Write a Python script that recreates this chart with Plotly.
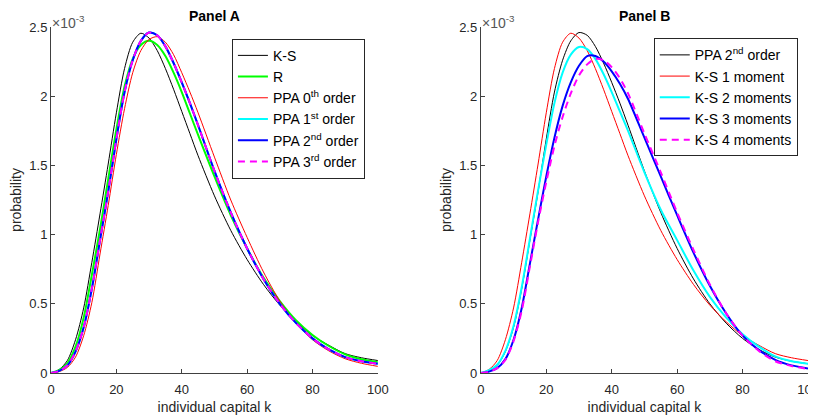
import plotly.graph_objects as go

# individual capital k (x grid at which values were read)
k = [0, 2.5, 5, 7.5, 10, 12.5, 15, 17.5, 20, 22.5, 25, 27.5, 30, 32.5, 35, 37.5,
     40, 42.5, 45, 50, 55, 60, 65, 70, 75, 80, 85, 90, 95, 100]

# ---- Panel A (probability, in units of 1e-3) ----
a_ks = [0, 0.025, 0.09, 0.24, 0.47, 0.80, 1.15, 1.51, 1.88, 2.20, 2.39, 2.455, 2.42, 2.33,
        2.20, 2.05, 1.89, 1.73, 1.57, 1.28, 1.03, 0.82, 0.64, 0.49, 0.37, 0.27, 0.20, 0.14, 0.11, 0.09]
a_r = [0, 0.02, 0.07, 0.19, 0.40, 0.71, 1.04, 1.40, 1.76, 2.07, 2.27, 2.37, 2.40, 2.37,
       2.29, 2.17, 2.03, 1.875, 1.72, 1.42, 1.14, 0.90, 0.69, 0.52, 0.38, 0.275, 0.195, 0.135, 0.10, 0.078]
a_ppa0 = [0, 0.01, 0.04, 0.115, 0.27, 0.51, 0.86, 1.21, 1.58, 1.91, 2.17, 2.33, 2.41, 2.43,
          2.39, 2.30, 2.17, 2.03, 1.88, 1.56, 1.25, 0.98, 0.73, 0.52, 0.36, 0.24, 0.16, 0.103, 0.07, 0.048]
a_ppa1 = [0, 0.015, 0.055, 0.155, 0.33, 0.61, 0.96, 1.31, 1.69, 2.03, 2.26, 2.40, 2.46, 2.44,
          2.36, 2.24, 2.10, 1.95, 1.79, 1.46, 1.16, 0.90, 0.68, 0.50, 0.36, 0.25, 0.17, 0.115, 0.085, 0.067]
a_ppa2 = [0, 0.015, 0.055, 0.155, 0.33, 0.61, 0.96, 1.31, 1.69, 2.03, 2.26, 2.40, 2.46, 2.44,
          2.36, 2.24, 2.10, 1.95, 1.79, 1.46, 1.16, 0.90, 0.68, 0.50, 0.36, 0.25, 0.17, 0.115, 0.085, 0.067]
a_ppa3 = [0, 0.015, 0.055, 0.155, 0.33, 0.61, 0.96, 1.31, 1.69, 2.03, 2.26, 2.40, 2.46, 2.44,
          2.36, 2.24, 2.10, 1.95, 1.79, 1.46, 1.16, 0.90, 0.68, 0.50, 0.36, 0.25, 0.17, 0.115, 0.085, 0.067]

# ---- Panel B (probability, in units of 1e-3) ----
b_ppa2 = [0, 0.015, 0.055, 0.155, 0.33, 0.61, 0.96, 1.31, 1.69, 2.03, 2.26, 2.40, 2.46, 2.44,
          2.36, 2.24, 2.10, 1.95, 1.79, 1.46, 1.16, 0.90, 0.68, 0.50, 0.36, 0.25, 0.17, 0.115, 0.085, 0.067]
b_ks1 = [0, 0.025, 0.09, 0.24, 0.47, 0.80, 1.15, 1.51, 1.88, 2.20, 2.39, 2.455, 2.42, 2.33,
         2.20, 2.05, 1.89, 1.73, 1.57, 1.28, 1.03, 0.82, 0.64, 0.49, 0.37, 0.27, 0.20, 0.14, 0.11, 0.09]
b_ks2 = [0, 0.02, 0.06, 0.16, 0.34, 0.62, 0.97, 1.32, 1.65, 1.95, 2.17, 2.30, 2.355, 2.34,
         2.27, 2.16, 2.03, 1.89, 1.75, 1.45, 1.18, 0.96, 0.74, 0.55, 0.40, 0.28, 0.19, 0.12, 0.085, 0.067]
b_ks3 = [0, 0.01, 0.035, 0.10, 0.24, 0.47, 0.79, 1.11, 1.42, 1.70, 1.93, 2.10, 2.22, 2.29,
         2.29, 2.25, 2.18, 2.09, 1.98, 1.70, 1.42, 1.14, 0.87, 0.63, 0.43, 0.27, 0.165, 0.095, 0.055, 0.033]
b_ks4 = [0, 0.01, 0.035, 0.095, 0.23, 0.45, 0.77, 1.09, 1.38, 1.64, 1.85, 2.02, 2.15, 2.23,
         2.27, 2.26, 2.21, 2.13, 2.02, 1.73, 1.45, 1.16, 0.89, 0.64, 0.43, 0.27, 0.16, 0.085, 0.05, 0.03]

y_ticks = [0, 0.5, 1, 1.5, 2, 2.5]
y_tick_labels = ["0", "0.5", "1", "1.5", "2", "2.5"]
x_ticks = [0, 20, 40, 60, 80, 100]
SCALE = 1e-3

FONT = "Liberation Sans, Arial, sans-serif"
AX = "#404040"
TXT = "#262626"

series_a = [
    ("K-S", a_ks, "black", 1, "solid"),
    ("R", a_r, "#00ff00", 2, "solid"),
    ("PPA 0<sup>th</sup> order", a_ppa0, "red", 1, "solid"),
    ("PPA 1<sup>st</sup> order", a_ppa1, "cyan", 2, "solid"),
    ("PPA 2<sup>nd</sup> order", a_ppa2, "blue", 2, "solid"),
    ("PPA 3<sup>rd</sup> order", a_ppa3, "magenta", 2, "7px,5px"),
]
series_b = [
    ("PPA 2<sup>nd</sup> order", b_ppa2, "black", 1, "solid"),
    ("K-S 1 moment", b_ks1, "red", 1, "solid"),
    ("K-S 2 moments", b_ks2, "cyan", 2, "solid"),
    ("K-S 3 moments", b_ks3, "blue", 2, "solid"),
    ("K-S 4 moments", b_ks4, "magenta", 2, "7px,5px"),
]

fig = go.Figure()
for i, (name, vals, col, w, dash) in enumerate(series_a):
    fig.add_trace(go.Scatter(x=k, y=[v * SCALE for v in vals], mode="lines", name=name,
                             line=dict(color=col, width=w, dash=dash, shape="spline", smoothing=0.8),
                             xaxis="x", yaxis="y", legend="legend", legendgroup="a%d" % i))
for i, (name, vals, col, w, dash) in enumerate(series_b):
    fig.add_trace(go.Scatter(x=k, y=[v * SCALE for v in vals], mode="lines", name=name,
                             line=dict(color=col, width=w, dash=dash, shape="spline", smoothing=0.8),
                             xaxis="x2", yaxis="y2", legend="legend2", legendgroup="b%d" % i))

# the page body adds an 8 px offset; figure coordinates below are screen - 8
OFF = 8
W, H = 816 - OFF, 417 - OFF
ml, mt = 51 - OFF, 26.7 - OFF
mb = H - (373.3 - OFF)
mr = W - (808.3 - OFF)
pw = W - ml - mr
ph = H - mt - mb
dA = [0, (378 - 51) / pw]
dB = [(481 - 51) / pw, 1]

def xax(dom, anchor):
    return dict(domain=dom, anchor=anchor, range=[0, 100], tickvals=x_ticks, automargin=False,
                ticks="inside", ticklen=4, tickcolor=AX, showline=True, linecolor=AX,
                linewidth=1, showgrid=False, zeroline=False, mirror=False, ticklabelstandoff=4,
                ticklabeloverflow="allow",
                tickfont=dict(family=FONT, size=13, color=TXT),
                title=dict(text="individual capital k", font=dict(family=FONT, size=14, color=TXT),
                           standoff=6))

def yax(anchor):
    return dict(domain=[0, 1], anchor=anchor, range=[0, 2.5 * SCALE], automargin=False,
                tickvals=[t * SCALE for t in y_ticks], ticktext=y_tick_labels,
                ticks="inside", ticklen=4, tickcolor=AX, showline=True, linecolor=AX,
                linewidth=1, showgrid=False, zeroline=False, mirror=False,
                tickfont=dict(family=FONT, size=13, color=TXT),
                title=dict(text="probability", font=dict(family=FONT, size=14, color=TXT),
                           standoff=4))

def leg(x, y):
    return dict(x=x, y=y, xanchor="left", yanchor="top", bgcolor="white",
                bordercolor=TXT, borderwidth=1, font=dict(family=FONT, size=14, color="black"),
                itemwidth=30, tracegroupgap=0)

fig.update_layout(
    width=W, height=H, margin=dict(l=ml, r=mr, t=mt, b=mb, autoexpand=False),
    paper_bgcolor="white", plot_bgcolor="white",
    font=dict(family=FONT, color=TXT),
    xaxis=xax(dA, "y"), yaxis=yax("x"),
    xaxis2=xax(dB, "y2"), yaxis2=yax("x2"),
    legend=leg((232 - 51) / pw, 1 - (38.5 - 26.7) / ph),
    legend2=leg((654 - 51) / pw, 1 - (38 - 26.7) / ph),
    showlegend=True,
)

for xr, yr, title in [("x", "y", "Panel A"), ("x2", "y2", "Panel B")]:
    fig.add_annotation(text="<b>%s</b>" % title, xref=xr + " domain", yref=yr + " domain",
                       x=0.5, y=1, xanchor="center", yanchor="bottom", yshift=2, borderpad=0,
                       showarrow=False, font=dict(family=FONT, size=14, color="black"))
    fig.add_annotation(text="\u00d710<sup>-3</sup>", xref=xr + " domain", yref=yr + " domain",
                       x=0, y=1, xanchor="left", yanchor="bottom", xshift=-1, yshift=-6,
                       showarrow=False, font=dict(family=FONT, size=14, color="#555555"))

fig.write_html("out.html")
